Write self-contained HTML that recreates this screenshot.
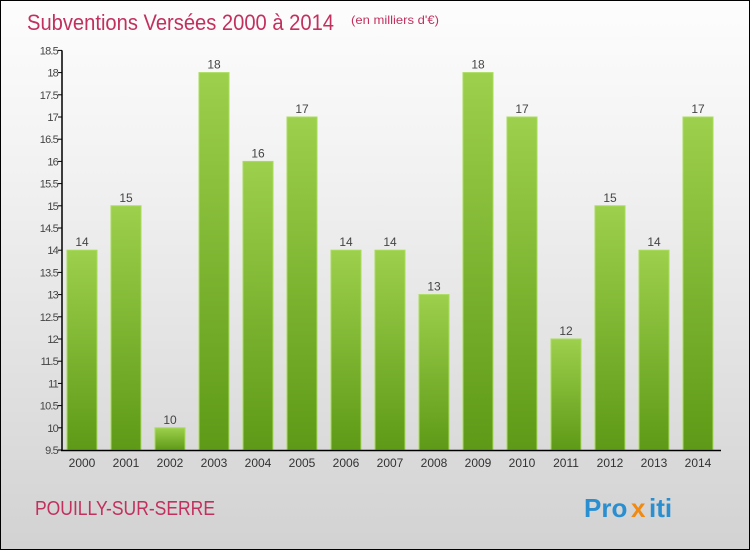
<!DOCTYPE html>
<html><head><meta charset="utf-8"><style>
body{margin:0}
#c{position:relative;width:748px;height:548px;border:1px solid #000;background:linear-gradient(#fdfdfd,#f2f2f2 30%,#d2d2d2);font-family:"Liberation Sans",sans-serif;overflow:hidden}
</style></head><body>
<div id="c">
<svg id="s" width="748" height="548" xmlns="http://www.w3.org/2000/svg">
<defs><linearGradient id="g" x1="0" y1="0" x2="0" y2="1"><stop offset="0" stop-color="#9dd04c"/><stop offset="1" stop-color="#5e9a17"/></linearGradient></defs>
<text x="26" y="29" font-size="22" fill="#c2305e" textLength="307" lengthAdjust="spacingAndGlyphs">Subventions Versées 2000 à 2014</text>
<text x="350" y="23" font-size="12" fill="#c2305e" textLength="88" lengthAdjust="spacingAndGlyphs">(en milliers d'€)</text>
<text x="34" y="514" font-size="20" fill="#c2305e" textLength="180" lengthAdjust="spacingAndGlyphs">POUILLY-SUR-SERRE</text>
<g font-size="26" font-weight="bold">
<text x="583" y="516" fill="#2a8fd0">Pro</text><text x="630" y="516" fill="#f08a10">x</text><text x="648" y="516" fill="#2a8fd0">iti</text></g>
<g id="plot"></g>
</svg></div>
<script>
const years=["2000","2001","2002","2003","2004","2005","2006","2007","2008","2009","2010","2011","2012","2013","2014"];
const values=[14,15,10,18,16,17,14,14,13,18,17,12,15,14,17];
const ticks=[9.5,10,10.5,11,11.5,12,12.5,13,13.5,14,14.5,15,15.5,16,16.5,17,17.5,18,18.5];
const NS="http://www.w3.org/2000/svg",p=document.getElementById("plot");
const y=v=>449-(v-9.5)*44.4, x=i=>81+i*44;
function mk(t,a,txt){const e=document.createElementNS(NS,t);for(const k in a)e.setAttribute(k,a[k]);if(txt!=null)e.textContent=txt;p.appendChild(e);return e;}
ticks.forEach(t=>{
const l=mk("line",{x1:57,x2:61,y1:y(t),y2:y(t),stroke:"#000"});


const tx=mk("text",{x:57,y:y(t)+4,"font-size":11,fill:"#444","text-anchor":"end","letter-spacing":"-0.8"},String(t));


});
years.forEach((yr,i)=>{
const v=values[i];
const r=mk("rect",{x:x(i)-15,y:y(v),width:30,height:449-y(v),fill:"url(#g)",stroke:"#a9dc5a","stroke-width":1});


const vl=mk("text",{x:x(i),y:y(v)-4,"font-size":12,fill:"#444","text-anchor":"middle"},String(v));


const xl=mk("text",{x:x(i),y:466,"font-size":12,fill:"#333","text-anchor":"middle"},yr);


});
const ya=mk("line",{x1:61,x2:61,y1:y(18.5),y2:450,stroke:"#000","stroke-width":1.5});


const xa=mk("line",{x1:60,x2:720,y1:449.5,y2:449.5,stroke:"#000","stroke-width":1.5});


</script>
</body></html>
